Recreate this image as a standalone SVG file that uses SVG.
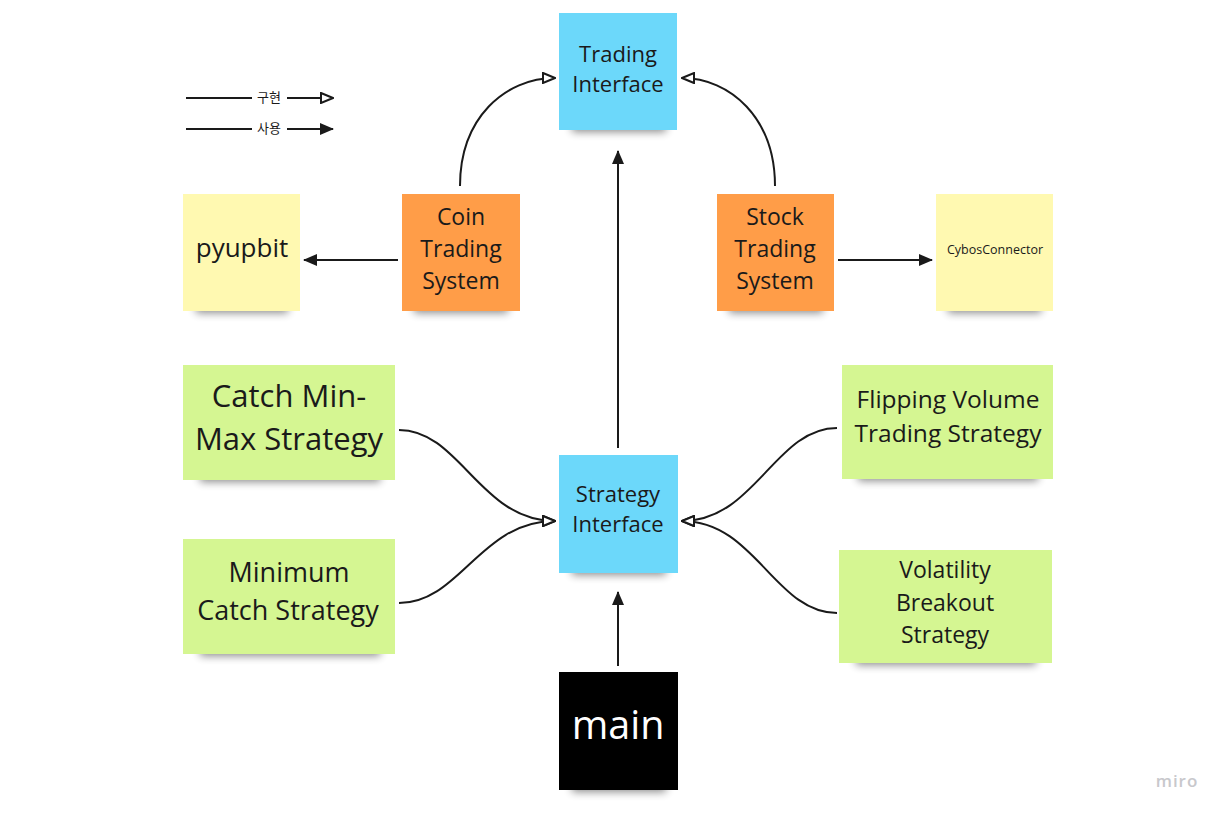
<svg xmlns="http://www.w3.org/2000/svg" width="1225" height="816" viewBox="0 0 1225 816">
<style>
.t{font-family:"Open Sans","Noto Sans","Liberation Sans",sans-serif;fill:#1a1a1a;text-anchor:middle}
.c{fill:none;stroke:#1a1a1a;stroke-width:2}
.ko{font-family:"Noto Sans CJK KR","Noto Sans",sans-serif;font-size:13px;fill:#1a1a1a;text-anchor:middle}
.sh{fill:#000;opacity:0.45;filter:url(#blur)}
</style>
<defs>
<filter id="blur" x="-20%" y="-100%" width="140%" height="300%"><feGaussianBlur stdDeviation="4"/></filter>
<marker id="hollow" viewBox="0 0 14 12" refX="13" refY="6" markerWidth="14" markerHeight="12" markerUnits="userSpaceOnUse" orient="auto">
<path d="M1,1 L13,6 L1,11 z" fill="#fff" stroke="#1a1a1a" stroke-width="2" stroke-linejoin="miter"/>
</marker>
<marker id="solid" viewBox="0 0 14 12" refX="13" refY="6" markerWidth="14" markerHeight="12" markerUnits="userSpaceOnUse" orient="auto">
<path d="M0,0 L14,6 L0,12 z" fill="#1a1a1a"/>
</marker>
</defs>
<rect width="1225" height="816" fill="#fff"/>

<g id="legend">
<line class="c" x1="186" y1="98" x2="252" y2="98"/>
<text class="ko" x="269" y="102">구현</text>
<line class="c" x1="287" y1="98" x2="333" y2="98" marker-end="url(#hollow)"/>
<line class="c" x1="186" y1="129" x2="252" y2="129"/>
<text class="ko" x="269" y="133">사용</text>
<line class="c" x1="287" y1="129" x2="333" y2="129" marker-end="url(#solid)"/>
</g>

<g id="trading-interface">
<rect class="sh" x="572" y="118" width="94" height="14"/>
<rect x="559" y="13" width="118" height="117" fill="#6cd8fa"/>
<text class="t" font-size="22" x="618" y="62">Trading</text>
<text class="t" font-size="22" x="618" y="92">Interface</text>
</g>

<g id="pyupbit">
<rect class="sh" x="196" y="299" width="92" height="14"/>
<rect x="183" y="194" width="117" height="117" fill="#fff9b1"/>
<text class="t" font-size="26" x="242" y="257">pyupbit</text>
</g>

<g id="coin-trading-system">
<rect class="sh" x="414" y="299" width="94" height="14"/>
<rect x="402" y="194" width="118" height="117" fill="#ff9d48"/>
<text class="t" font-size="23" x="461" y="225">Coin</text>
<text class="t" font-size="23" x="461" y="257">Trading</text>
<text class="t" font-size="23" x="461" y="289">System</text>
</g>

<g id="stock-trading-system">
<rect class="sh" x="729" y="299" width="94" height="14"/>
<rect x="717" y="194" width="117" height="117" fill="#ff9d48"/>
<text class="t" font-size="23" x="775" y="225">Stock</text>
<text class="t" font-size="23" x="775" y="257">Trading</text>
<text class="t" font-size="23" x="775" y="289">System</text>
</g>

<g id="cybos-connector">
<rect class="sh" x="948" y="299" width="93" height="14"/>
<rect x="936" y="194" width="117" height="117" fill="#fff9b1"/>
<text class="t" font-size="12.5" x="995" y="254">CybosConnector</text>
</g>

<g id="catch-min-max">
<rect class="sh" x="200" y="468" width="180" height="14"/>
<rect x="183" y="365" width="212" height="115" fill="#d5f692"/>
<text class="t" font-size="31" x="289" y="407">Catch Min-</text>
<text class="t" font-size="31" x="289" y="450">Max Strategy</text>
</g>

<g id="minimum-catch">
<rect class="sh" x="200" y="642" width="180" height="14"/>
<rect x="183" y="539" width="212" height="115" fill="#d5f692"/>
<text class="t" font-size="27" x="289" y="582">Minimum</text>
<text class="t" font-size="27" x="288" y="620">Catch Strategy</text>
</g>

<g id="strategy-interface">
<rect class="sh" x="572" y="561" width="94" height="14"/>
<rect x="559" y="455" width="119" height="118" fill="#6cd8fa"/>
<text class="t" font-size="22" x="618" y="502">Strategy</text>
<text class="t" font-size="22" x="618" y="532">Interface</text>
</g>

<g id="flipping-volume">
<rect class="sh" x="858" y="467" width="180" height="14"/>
<rect x="842" y="365" width="211" height="114" fill="#d5f692"/>
<text class="t" font-size="24.5" x="948" y="408">Flipping Volume</text>
<text class="t" font-size="24.5" x="948" y="442">Trading Strategy</text>
</g>

<g id="volatility-breakout">
<rect class="sh" x="856" y="651" width="180" height="14"/>
<rect x="839" y="550" width="213" height="113" fill="#d5f692"/>
<text class="t" font-size="23" x="945" y="578">Volatility</text>
<text class="t" font-size="23" x="945" y="611">Breakout</text>
<text class="t" font-size="23" x="945" y="643">Strategy</text>
</g>

<g id="main">
<rect class="sh" x="572" y="778" width="94" height="14"/>
<rect x="559" y="672" width="119" height="118" fill="#000"/>
<text class="t" font-size="39.5" x="618" y="739" style="fill:#fff">main</text>
</g>

<g id="connectors">
<path class="c" d="M460,186 C460,118 505,78 555,78" marker-end="url(#hollow)"/>
<path class="c" d="M775,186 C775,118 730,78 682,78" marker-end="url(#hollow)"/>
<path class="c" d="M618,448 L618,151" marker-end="url(#solid)"/>
<path class="c" d="M398,260 L304,260" marker-end="url(#solid)"/>
<path class="c" d="M838,260 L932,260" marker-end="url(#solid)"/>
<path class="c" d="M399,430 C460,430 480,521 555,521" marker-end="url(#hollow)"/>
<path class="c" d="M399,603 C460,603 480,521 555,521" marker-end="url(#hollow)"/>
<path class="c" d="M837,428 C775,428 755,521 682,521" marker-end="url(#hollow)"/>
<path class="c" d="M837,613 C775,613 755,521 682,521" marker-end="url(#hollow)"/>
<path class="c" d="M618,666 L618,592" marker-end="url(#solid)"/>
</g>

<text x="1177" y="787" font-family="Open Sans, sans-serif" font-size="17" font-weight="600" fill="#c8c8cc" text-anchor="middle" letter-spacing="1">miro</text>
</svg>
